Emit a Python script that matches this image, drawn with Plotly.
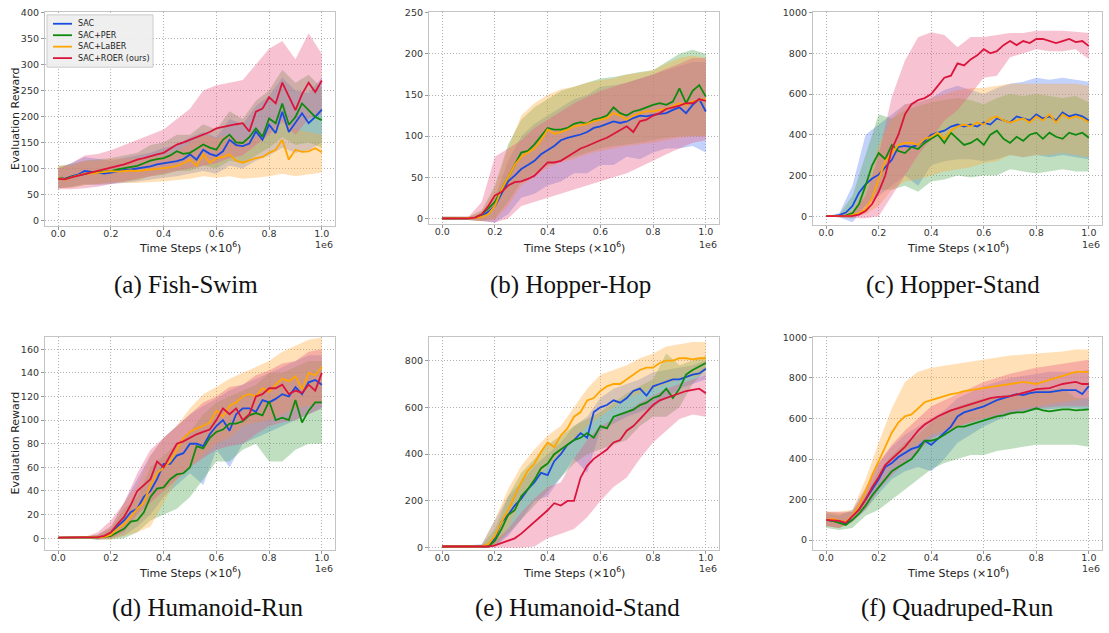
import plotly.graph_objects as go

# ---------------- data ----------------
X_MEAN = [i * 0.025 for i in range(41)]
X_BAND = [i * 0.05 for i in range(21)]

SERIES = ["SAC", "SAC+PER", "SAC+LaBER", "SAC+ROER (ours)"]
COLORS = ["#1a4be0", "#0e8a0e", "#ffa500", "#dc143c"]
BAND_COLORS = ["rgba(90,130,240,0.36)", "rgba(80,165,80,0.36)", "rgba(255,170,55,0.36)", "rgba(232,90,130,0.36)"]

PANEL_TITLES = ["(a) Fish-Swim", "(b) Hopper-Hop", "(c) Hopper-Stand",
                "(d) Humanoid-Run", "(e) Humanoid-Stand", "(f) Quadruped-Run"]

# (a) Fish-Swim
FISH_SAC = [82,80,85,88,95,93,92,90,92,95,97,98,100,102,104,108,110,112,114,118,127,117,136,128,124,133,155,145,143,148,171,155,184,168,209,170,187,206,187,199,213]
FISH_PER = [82,80,84,87,90,92,93,94,95,98,100,103,105,110,115,118,120,125,133,128,130,138,146,140,136,155,165,150,149,160,177,161,196,187,225,184,199,225,212,199,193]
FISH_LABER = [82,78,83,87,90,90,92,93,95,94,95,96,95,97,98,99,100,102,105,110,117,105,127,111,120,122,127,115,111,115,120,122,130,136,155,117,136,132,133,139,131]
FISH_ROER = [80,79,83,86,89,92,95,98,102,104,108,112,117,120,124,127,130,138,146,150,155,160,165,170,177,180,183,185,187,171,209,215,237,225,265,240,212,243,265,247,269]
FISH_SAC_LO = [62,65,70,68,70,72,75,78,82,85,90,95,90,105,100,115,125,140,130,135,150]
FISH_SAC_HI = [100,110,122,118,115,120,125,130,140,145,160,170,160,195,185,220,240,275,250,245,275]
FISH_PER_LO = [62,64,68,70,72,75,78,85,88,95,95,105,100,115,110,125,140,160,145,150,140]
FISH_PER_HI = [105,108,115,118,120,125,130,145,150,165,165,185,175,210,195,230,250,290,265,280,255]
FISH_LABER_LO = [62,63,68,70,72,72,72,74,75,78,80,85,82,85,80,82,85,90,85,88,92]
FISH_LABER_HI = [105,105,115,115,118,118,120,122,125,132,150,165,158,165,150,160,170,195,175,170,165]
FISH_ROER_LO = [60,60,62,65,70,75,80,85,90,95,100,105,110,120,125,145,165,190,165,195,205]
FISH_ROER_HI = [100,110,125,128,135,145,155,165,175,195,215,250,260,265,270,300,330,345,310,360,320]

# (b) Hopper-Hop
HOP_SAC = [0,0,0,0,0,0.5,3,8,15,30,45,52,60,65,70,78,83,88,95,98,100,102,105,110,112,115,118,116,118,122,125,124,126,127,128,132,135,128,138,145,130]
HOP_PER = [0,0,0,0,0,1,5,12,20,35,50,65,80,82,90,100,110,108,108,110,115,117,115,120,122,125,135,128,125,130,132,135,138,140,138,142,158,140,155,162,148]
HOP_LABER = [0,0,0,0,0,0.5,2,5,15,35,50,65,75,80,85,95,108,103,105,108,112,113,115,118,120,122,128,125,120,125,128,130,130,132,133,137,140,138,142,144,145]
HOP_ROER = [0,0,0,0,0,1,5,15,28,32,40,44,45,48,52,60,68,68,70,75,80,85,88,92,95,98,103,108,112,105,118,120,125,128,133,135,137,140,140,145,143]
HOP_SAC_LO = [-2,-2,-2,-3,-5,5,25,30,40,45,55,55,65,65,75,72,80,85,85,88,80]
HOP_SAC_HI = [2,2,2,5,25,70,100,115,125,135,145,150,160,162,165,170,175,180,185,190,190]
HOP_PER_LO = [-2,-2,-2,-3,0,20,45,55,65,70,75,80,85,88,90,92,95,98,100,100,100]
HOP_PER_HI = [2,2,2,10,40,90,120,135,145,155,160,165,170,172,175,178,180,190,200,205,200]
HOP_LABER_LO = [-2,-2,-2,-3,-2,15,40,50,62,68,72,78,82,85,88,90,92,95,98,100,100]
HOP_LABER_HI = [2,2,2,8,35,85,125,140,150,157,160,165,168,170,175,177,180,188,195,198,195]
HOP_ROER_LO = [-2,-2,-2,-3,-5,0,15,20,25,30,35,40,45,50,55,62,70,78,85,92,95]
HOP_ROER_HI = [2,2,2,20,75,85,95,110,120,130,140,148,155,160,165,170,175,182,188,195,195]

# (c) Hopper-Stand
STAND_SAC = [0,0,5,18,50,115,156,185,204,240,277,340,345,340,350,370,400,410,420,440,450,440,450,440,460,450,480,470,460,490,480,470,500,480,490,470,510,490,500,490,470]
STAND_PER = [0,0,0,3,15,60,150,250,310,280,350,320,310,340,330,360,380,400,360,410,380,350,360,380,350,400,420,380,360,390,370,400,410,380,410,390,380,410,400,410,385]
STAND_LABER = [0,0,0,0,5,15,35,90,180,270,310,350,360,360,350,380,390,410,380,420,440,450,440,460,450,480,490,470,460,470,480,460,490,470,500,460,500,480,490,480,460]
STAND_ROER = [0,0,0,0,2,8,25,60,120,200,330,400,500,550,570,580,600,640,680,690,750,740,770,790,820,800,810,840,860,840,860,850,870,870,860,850,860,870,855,860,835]
STAND_SAC_LO = [0,-5,-30,50,100,150,200,150,250,270,280,280,270,280,300,290,300,290,300,290,280]
STAND_SAC_HI = [0,15,150,400,450,500,550,560,580,620,640,620,600,630,650,660,680,670,680,670,660]
STAND_PER_LO = [0,-5,-10,50,130,130,150,120,170,180,200,190,200,200,230,220,210,220,230,220,220]
STAND_PER_HI = [0,10,100,300,500,480,520,540,560,570,580,570,550,580,600,590,600,590,580,590,560]
STAND_LABER_LO = [0,-5,-5,10,50,130,170,180,200,220,230,240,260,270,300,290,300,300,310,300,290]
STAND_LABER_HI = [0,5,30,150,350,480,550,560,580,600,620,630,630,640,650,650,650,650,650,650,640]
STAND_ROER_LO = [0,-5,-10,-10,0,100,200,300,380,470,520,600,680,690,780,800,820,810,810,820,770]
STAND_ROER_HI = [0,5,20,100,300,586,765,878,903,890,830,880,880,890,900,900,910,910,910,905,900]

# (d) Humanoid-Run
RUN_SAC = [0.5,0.5,0.5,0.5,0.5,0.5,0.8,1.5,3,10,15,22,25,35,40,50,63,63,70,72,80,80,78,88,95,100,91,105,110,110,107,117,115,118,122,120,128,122,132,134,130]
RUN_PER = [0.5,0.5,0.5,0.5,0.5,0.5,0.8,1.2,2,5,8,14,15,22,35,42,43,50,54,55,60,78,76,85,90,92,97,97,99,104,106,104,116,100,102,100,117,98,108,115,115]
RUN_LABER = [0.5,0.5,0.5,0.5,0.5,0.5,0.8,1.2,3,8,12,18,25,30,45,55,60,65,75,85,90,93,95,98,108,103,112,115,120,122,120,127,124,130,135,133,137,126,140,138,145]
RUN_ROER = [0.5,0.5,0.5,0.5,0.5,0.5,1,2,5,12,18,28,40,45,50,65,60,70,80,82,85,88,90,92,100,110,105,110,100,105,120,122,127,127,130,122,125,123,130,125,140]
RUN_SAC_LO = [0,0,0,-1,0,2,10,20,35,45,55,45,75,60,80,85,90,95,100,105,110]
RUN_SAC_HI = [1,1,1,3,10,30,50,70,85,95,105,112,118,125,130,135,140,145,150,155,155]
RUN_PER_LO = [0,0,0,-1,-1,0,5,15,20,25,35,50,65,65,75,80,65,65,75,80,80]
RUN_PER_HI = [1,1,1,3,8,25,35,60,70,80,90,105,115,120,125,130,140,140,145,150,150]
RUN_LABER_LO = [0,0,0,-1,-1,2,5,10,30,50,60,70,80,85,95,98,100,105,110,112,115]
RUN_LABER_HI = [1,1,1,3,10,30,45,70,85,95,110,122,128,135,140,145,150,158,163,168,170]
RUN_ROER_LO = [0,0,0,-1,0,5,20,30,40,50,60,68,75,78,80,88,95,98,100,105,110]
RUN_ROER_HI = [1,1,1,5,15,30,55,75,85,95,105,115,120,128,130,138,142,148,150,158,160]

# (e) Humanoid-Stand
HSTAND_SAC = [5,5,5,5,5,5,5,10,40,110,140,180,210,250,280,320,310,370,400,440,460,490,470,580,600,610,630,620,640,670,680,650,690,700,710,720,720,730,740,745,765]
HSTAND_PER = [5,5,5,5,5,5,5,5,30,80,140,160,220,250,290,340,360,400,420,440,460,470,490,470,520,510,560,570,580,590,610,620,640,650,680,640,680,740,760,775,790]
HSTAND_LABER = [5,5,5,5,5,5,5,15,50,110,160,220,280,330,360,410,450,430,480,510,560,580,630,640,670,690,700,700,720,740,760,770,770,790,800,800,810,810,805,810,810]
HSTAND_ROER = [5,5,5,5,5,5,5,5,10,20,30,40,60,85,110,135,160,190,180,200,200,300,350,380,400,420,450,460,500,520,550,580,610,630,640,650,660,670,675,680,660]
HSTAND_SAC_LO = [0,0,0,0,5,50,120,200,220,300,380,320,500,530,560,580,600,640,680,700,720]
HSTAND_SAC_HI = [10,10,10,15,120,220,280,350,400,450,520,560,640,680,700,720,750,760,770,780,800]
HSTAND_PER_LO = [0,0,0,0,5,60,120,180,240,300,360,400,420,440,460,520,560,560,600,700,760]
HSTAND_PER_HI = [10,10,10,12,80,220,320,380,440,480,520,550,580,620,660,690,720,830,780,800,820]
HSTAND_LABER_LO = [0,0,0,0,10,80,200,280,350,400,460,520,560,600,640,660,680,700,720,730,740]
HSTAND_LABER_HI = [10,10,10,12,120,250,350,420,480,520,600,680,740,760,780,810,830,860,870,880,880]
HSTAND_ROER_LO = [0,0,0,0,0,0,0,5,40,60,80,130,200,260,300,380,450,500,550,570,560]
HSTAND_ROER_HI = [10,10,10,10,30,80,150,210,260,280,380,460,520,550,580,620,650,680,700,720,740]

# (f) Quadruped-Run
QUAD_SAC = [100,95,90,80,120,150,200,250,300,360,380,410,430,450,460,490,470,500,530,560,610,630,640,650,660,675,690,700,710,720,715,725,730,730,730,735,740,740,740,720,760]
QUAD_PER = [100,95,85,75,100,130,170,220,260,300,340,360,380,400,440,490,490,500,520,540,560,560,570,580,590,600,610,615,625,630,630,640,650,640,635,640,645,645,640,642,645]
QUAD_LABER = [100,105,95,90,120,170,240,320,390,460,530,580,610,620,650,680,690,700,710,720,725,735,740,745,750,755,760,765,770,775,780,775,770,780,790,800,810,820,830,830,830]
QUAD_ROER = [100,98,95,85,120,150,200,260,310,370,400,430,460,500,540,570,590,610,625,640,650,660,670,680,690,700,705,708,710,718,725,735,745,748,750,760,770,775,780,770,770]
QUAD_SAC_LO = [70,60,90,150,230,300,340,360,340,400,480,520,560,590,620,630,640,645,650,650,640]
QUAD_SAC_HI = [130,120,150,260,380,460,520,560,600,640,700,730,760,780,800,810,820,830,830,830,840]
QUAD_PER_LO = [60,50,60,120,150,200,250,300,350,380,400,420,420,440,450,460,470,470,470,470,460]
QUAD_PER_HI = [140,130,140,220,340,420,480,520,580,620,660,680,700,710,720,730,740,740,750,700,700]
QUAD_LABER_LO = [70,60,90,180,300,400,440,480,520,540,560,580,600,620,640,650,660,670,680,690,700]
QUAD_LABER_HI = [140,140,150,300,480,650,780,830,850,860,870,880,890,900,910,915,920,925,930,940,940]
QUAD_ROER_LO = [70,60,90,150,250,320,380,440,500,530,560,580,600,610,620,635,650,655,660,660,660]
QUAD_ROER_HI = [140,140,140,250,380,470,540,600,660,690,720,750,780,800,820,835,850,860,870,880,890]

PANELS = [
    ([FISH_SAC, FISH_PER, FISH_LABER, FISH_ROER],
     [(FISH_SAC_LO, FISH_SAC_HI), (FISH_PER_LO, FISH_PER_HI), (FISH_LABER_LO, FISH_LABER_HI), (FISH_ROER_LO, FISH_ROER_HI)]),
    ([HOP_SAC, HOP_PER, HOP_LABER, HOP_ROER],
     [(HOP_SAC_LO, HOP_SAC_HI), (HOP_PER_LO, HOP_PER_HI), (HOP_LABER_LO, HOP_LABER_HI), (HOP_ROER_LO, HOP_ROER_HI)]),
    ([STAND_SAC, STAND_PER, STAND_LABER, STAND_ROER],
     [(STAND_SAC_LO, STAND_SAC_HI), (STAND_PER_LO, STAND_PER_HI), (STAND_LABER_LO, STAND_LABER_HI), (STAND_ROER_LO, STAND_ROER_HI)]),
    ([RUN_SAC, RUN_PER, RUN_LABER, RUN_ROER],
     [(RUN_SAC_LO, RUN_SAC_HI), (RUN_PER_LO, RUN_PER_HI), (RUN_LABER_LO, RUN_LABER_HI), (RUN_ROER_LO, RUN_ROER_HI)]),
    ([HSTAND_SAC, HSTAND_PER, HSTAND_LABER, HSTAND_ROER],
     [(HSTAND_SAC_LO, HSTAND_SAC_HI), (HSTAND_PER_LO, HSTAND_PER_HI), (HSTAND_LABER_LO, HSTAND_LABER_HI), (HSTAND_ROER_LO, HSTAND_ROER_HI)]),
    ([QUAD_SAC, QUAD_PER, QUAD_LABER, QUAD_ROER],
     [(QUAD_SAC_LO, QUAD_SAC_HI), (QUAD_PER_LO, QUAD_PER_HI), (QUAD_LABER_LO, QUAD_LABER_HI), (QUAD_ROER_LO, QUAD_ROER_HI)]),
]

Y_RANGES = [(-11, 401), (-7, 251), (-44, 1003), (-10, 170.6), (-10, 902), (-49, 1003)]
Y_DTICKS = [50, 50, 200, 20, 200, 200]
Y_MAX_TICK = [400, 250, 1000, 160, 800, 1000]
X_TICKS = [0.0, 0.2, 0.4, 0.6, 0.8, 1.0]

# ---------------- layout geometry (pixels) ----------------
W, H = 1109, 633
BOXES = [(45, 335, 7, 224), (429, 719, 7, 222), (813, 1102, 7, 223),
         (45, 335, 336, 552), (429, 719, 336, 552), (813, 1102, 336, 552)]
CAPTION_POS = [(186, 284), (570, 284), (953, 284), (207, 611), (577, 611), (957, 611)]

FONT = "DejaVu Sans"
fig = go.Figure()
layout = dict(width=W, height=H, margin=dict(l=0, r=0, t=0, b=0),
              paper_bgcolor="white", plot_bgcolor="white", showlegend=False)
annotations = []
shapes = []

def px(xp):
    return xp / W

def py(yp):
    return 1 - yp / H

for p, (means, bands) in enumerate(PANELS):
    sfx = "" if p == 0 else str(p + 1)
    xa, ya = "x" + sfx, "y" + sfx
    for s in range(4):
        lo, hi = bands[s]
        fig.add_trace(go.Scatter(
            x=X_BAND + X_BAND[::-1], y=list(hi) + list(lo)[::-1],
            fill="toself", fillcolor=BAND_COLORS[s], line=dict(width=0),
            mode="lines", hoverinfo="skip", showlegend=False, xaxis=xa, yaxis=ya))
    for s in range(4):
        fig.add_trace(go.Scatter(
            x=X_MEAN, y=means[s], mode="lines", name=SERIES[s],
            line=dict(color=COLORS[s], width=1.8),
            showlegend=False, xaxis=xa, yaxis=ya))

    l, r, t, b = BOXES[p]
    axis_common = dict(showgrid=True, gridcolor="#b0b0b0", griddash="1px,2px", gridwidth=1,
                       showline=True, linecolor="#c4c4c4", linewidth=1.2, mirror=True,
                       ticks="outside", ticklen=3, tickcolor="#999999",
                       tickfont=dict(family=FONT, size=9.5, color="#333333"),
                       zeroline=False)
    layout["xaxis" + sfx] = dict(axis_common, domain=[px(l), px(r)], range=[-0.05, 1.05],
                                 tickvals=X_TICKS, ticktext=["%.1f" % v for v in X_TICKS],
                                 ticklabelstandoff=-5, anchor=ya)
    ymin, ymax = Y_RANGES[p]
    yt = list(range(0, Y_MAX_TICK[p] + 1, Y_DTICKS[p]))
    layout["yaxis" + sfx] = dict(axis_common, domain=[py(b), py(t)], range=[ymin, ymax],
                                 tickvals=yt, ticktext=[str(v) for v in yt], anchor=xa)

    annotations.append(dict(text="Time Steps (<i>×</i>10<sup>6</sup>)", x=px((l + r) / 2),
                            y=py(246 if p < 3 else 575), xref="paper", yref="paper",
                            xanchor="center", yanchor="middle", showarrow=False,
                            font=dict(family=FONT, size=11, color="#222222")))
    annotations.append(dict(text="1e6", x=px(r), y=py(243 if p < 3 else 571), xref="paper", yref="paper",
                            xanchor="right", yanchor="middle", showarrow=False,
                            font=dict(family=FONT, size=9.5, color="#333333")))
    cx, cy = CAPTION_POS[p]
    annotations.append(dict(text=PANEL_TITLES[p], x=px(cx), y=py(cy), xref="paper", yref="paper",
                            xanchor="center", yanchor="middle", showarrow=False,
                            font=dict(family="Liberation Serif", size=25, color="#111111")))
    if p in (0, 3):
        annotations.append(dict(text="Evaluation Reward", x=px(15), y=py((t + b) / 2),
                                xref="paper", yref="paper", textangle=-90,
                                xanchor="center", yanchor="middle", showarrow=False,
                                font=dict(family=FONT, size=11, color="#222222")))

# compact legend box in panel (a)
LEG_L, LEG_R, LEG_T, LEG_B = 47, 153, 10, 63
shapes.append(dict(type="rect", xref="paper", yref="paper", x0=px(LEG_L), x1=px(LEG_R),
                   y0=py(LEG_B), y1=py(LEG_T), fillcolor="rgba(238,238,238,0.92)",
                   line=dict(color="#cccccc", width=1), layer="above"))
for s in range(4):
    yy = 19 + s * 11.6
    shapes.append(dict(type="line", xref="paper", yref="paper", x0=px(53), x1=px(72),
                       y0=py(yy), y1=py(yy), line=dict(color=COLORS[s], width=1.8), layer="above"))
    annotations.append(dict(text=SERIES[s], x=px(76), y=py(yy), xref="paper", yref="paper",
                            xanchor="left", yanchor="middle", showarrow=False,
                            font=dict(family=FONT, size=8, color="#222222")))

layout["annotations"] = annotations
layout["shapes"] = shapes
fig.update_layout(**layout)
fig.write_html("out.html", config={"displayModeBar": False},
               post_script="document.body.style.margin='0px';")
